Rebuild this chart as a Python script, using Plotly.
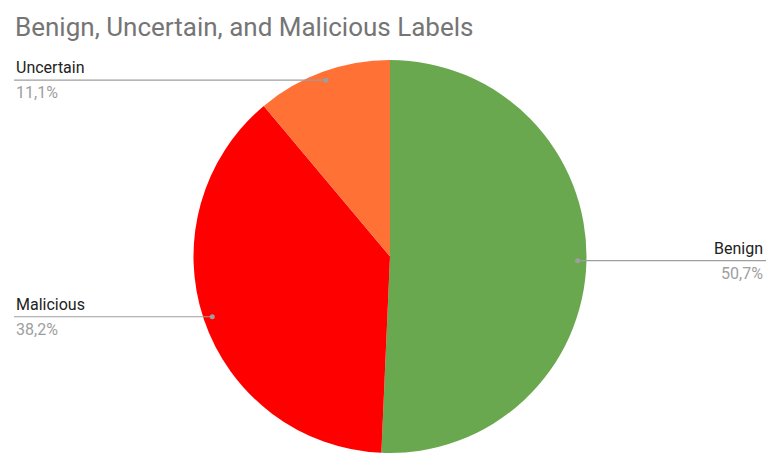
import math
import plotly.graph_objects as go

labels = ["Benign", "Malicious", "Uncertain"]
values = [50.7, 38.2, 11.1]
pct_text = ["50,7%", "38,2%", "11,1%"]
colors = ["#6aa84f", "#ff0000", "#ff7134"]
label_side = ["right", "left", "left"]

W, H = 766, 453
top_px = 60
cx_px = 390
dom_h = H - top_px
R = dom_h / 2
cy_px = top_px + R

fig = go.Figure(go.Pie(
    labels=labels, values=values, sort=False, direction="clockwise", rotation=0,
    marker=dict(colors=colors, line=dict(width=0)),
    textinfo="none", hoverinfo="label+percent", showlegend=False,
    domain=dict(x=[(cx_px - R - 5) / W, (cx_px + R + 5) / W], y=[0, dom_h / H]),
))

def px(x):
    return x / W

def py(y):
    return 1 - y / H

total = sum(values)
cum = 0
shapes = []
annotations = []
for lab, v, pt, side in zip(labels, values, pct_text, label_side):
    mid = (cum + v / 2) / total * 2 * math.pi
    cum += v
    dx = cx_px + 0.955 * R * math.sin(mid)
    dy = cy_px - 0.955 * R * math.cos(mid)
    if side == "right":
        x0, x1, tx, anchor = dx, W, W - 1, "right"
    else:
        x0, x1, tx, anchor = 14, dx, 14, "left"
    shapes.append(dict(type="line", xref="paper", yref="paper",
                       x0=px(x0), x1=px(x1), y0=py(dy), y1=py(dy),
                       line=dict(color="#9e9e9e", width=1.2)))
    r = 2.5
    shapes.append(dict(type="circle", xref="paper", yref="paper",
                       x0=px(dx - r), x1=px(dx + r), y0=py(dy - r), y1=py(dy + r),
                       fillcolor="#9e9e9e", line=dict(width=0)))
    annotations.append(dict(text=lab, xref="paper", yref="paper", x=px(tx), y=py(dy - 1),
                            xanchor=anchor, yanchor="bottom", showarrow=False,
                            font=dict(family="Roboto", size=16, color="#222222")))
    annotations.append(dict(text=pt, xref="paper", yref="paper", x=px(tx), y=py(dy + 1),
                            xanchor=anchor, yanchor="top", showarrow=False,
                            font=dict(family="Roboto", size=16, color="#9e9e9e")))

fig.update_layout(
    width=W, height=H,
    margin=dict(l=0, r=0, t=0, b=0),
    paper_bgcolor="white",
    title=dict(text="Benign, Uncertain, and Malicious Labels", x=15 / W, xanchor="left",
               y=py(27), yanchor="middle",
               font=dict(family="Roboto", size=26, color="#757575")),
    shapes=shapes, annotations=annotations,
)

fig.write_html("out.html")
